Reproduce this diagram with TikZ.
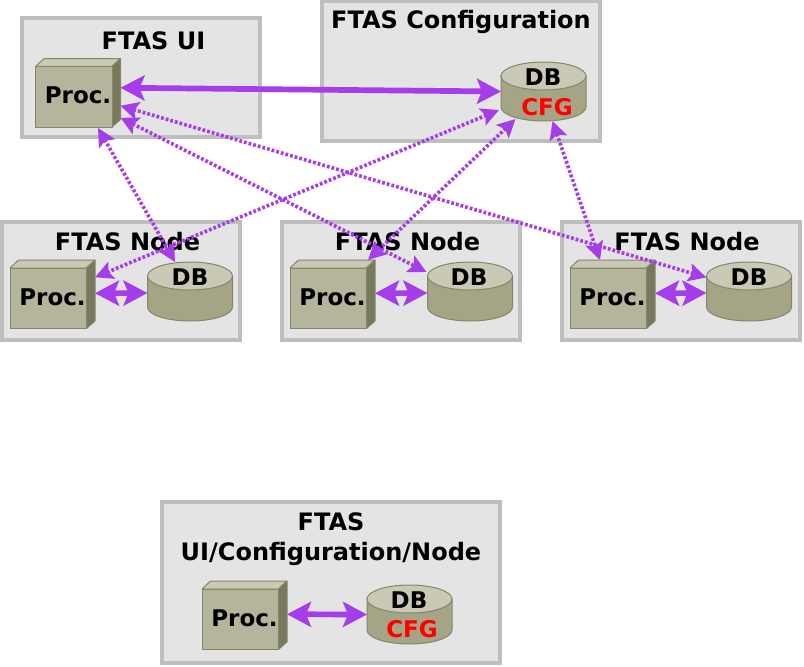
\documentclass[tikz,border=0pt]{standalone}
\usepackage{fontspec}
\setmainfont{DejaVu Sans}[BoldFont={DejaVu Sans Bold}]
\usetikzlibrary{arrows.meta}
\definecolor{frameedge}{HTML}{BEBEBE}
\definecolor{framefill}{HTML}{E4E4E4}
\definecolor{boxfront}{HTML}{B5B59C}
\definecolor{boxtop}{HTML}{C9C9B5}
\definecolor{boxside}{HTML}{78785C}
\definecolor{boxline}{HTML}{85856C}
\definecolor{dbbody}{HTML}{A5A585}
\definecolor{link}{HTML}{A63DEA}
\tikzset{
  x=1pt,y=-1pt,
  frame/.style={draw=frameedge,fill=framefill,line width=4pt},
  lbl/.style={font=\fontsize{23}{27.6}\selectfont\bfseries,text=black,inner sep=0pt,align=center},
  ttl/.style={font=\fontsize{24}{30}\selectfont\bfseries,text=black,inner sep=0pt,align=center},
  cfg/.style={lbl,text=red},
  thicklink/.style={draw=link,line width=5.7pt,{Stealth[inset=5pt,length=24pt,width=25pt]}-{Stealth[inset=5pt,length=24pt,width=25pt]}},
  dotlink/.style={draw=link,line width=3.6pt,dash pattern=on 2.8pt off 2pt,{Stealth[inset=3.5pt,length=18pt,width=18pt]}-{Stealth[inset=3.5pt,length=18pt,width=18pt]}},
  procbox/.style={inner sep=0pt,outer sep=0pt,minimum width=85pt,minimum height=68.5pt},
  dbbox/.style={inner sep=0pt,outer sep=0pt,minimum width=85pt,minimum height=59pt},
}
% \proc{name}{left of front}{top of front}
\newcommand{\proc}[3]{%
  \begin{scope}[shift={(#2,#3)},line width=1pt,line join=round]
    \filldraw[fill=boxtop,draw=boxline] (0,0)--(8.5,-8)--(85,-8)--(76.5,0)--cycle;
    \filldraw[fill=boxside,draw=boxline] (76.5,0)--(85,-8)--(85,53)--(76.5,60.5)--cycle;
    \filldraw[fill=boxfront,draw=boxline] (0,0) rectangle (76.5,60.5);
  \end{scope}%
  \node[procbox] (#1) at (#2+42.5,#3+26.25) {};%
  \node[lbl] (#1t) at (#2+42.5,#3+29) {Proc.};%
}
% \db{name}{left}{ellipse centre y}
\newcommand{\db}[3]{%
  \begin{scope}[shift={(#2,#3)},line width=1pt]
    \filldraw[fill=dbbody,draw=boxline] (0,0)--(0,31) arc[start angle=180,end angle=360,x radius=42.5,y radius=-14]--(85,0)--cycle;
    \filldraw[fill=boxtop,draw=boxline] (42.5,0) ellipse[x radius=42.5,y radius=14];
  \end{scope}%
  \node[dbbox] (#1) at (#2+42.5,#3+15.5) {};%
}
\begin{document}
\begin{tikzpicture}
\useasboundingbox (0,0) rectangle (804,667);
% frames
\node[frame,inner sep=0pt,minimum width=238pt,minimum height=119pt] (fui) at (141,77) {};
\node[frame,inner sep=0pt,minimum width=278pt,minimum height=140pt] (fcfg) at (461,71) {};
\node[frame,inner sep=0pt,minimum width=238pt,minimum height=118pt] (fn1) at (121,281) {};
\node[frame,inner sep=0pt,minimum width=238pt,minimum height=118pt] (fn2) at (401,281) {};
\node[frame,inner sep=0pt,minimum width=238pt,minimum height=118pt] (fn3) at (681,281) {};
\node[frame,inner sep=0pt,minimum width=338pt,minimum height=161pt] (fall) at (331,582) {};
% titles
\node[ttl] (tui) at (153.5,41) {FTAS UI};
\node[ttl] (tcfg) at (461,22) {FTAS Configuration};
\node[ttl] (tn1) at (127.5,242) {FTAS Node};
\node[ttl] (tn2) at (407.5,242) {FTAS Node};
\node[ttl] (tn3) at (687,242) {FTAS Node};
\node[ttl] (tall) at (331,539) {FTAS\\UI/Configuration/Node};
% boxes
\proc{pui}{35.5}{66.5}
\proc{p1}{10}{268}
\proc{p2}{290}{268}
\proc{p3}{570}{268}
\proc{pall}{202}{589}
\db{dcfg}{501}{76}
\db{d1}{147.5}{276}
\db{d2}{427.5}{276}
\db{d3}{706.5}{276}
\db{dall}{367}{599}
\node[lbl] (dcfgt) at (543,77) {DB};
\node[cfg] (dcfgc) at (547,107) {CFG};
\node[lbl] (d1t) at (190,277) {DB};
\node[lbl] (d2t) at (469,277) {DB};
\node[lbl] (d3t) at (749,277) {DB};
\node[lbl] (dallt) at (409,600) {DB};
\node[cfg] (dallc) at (412,629) {CFG};
% links
\draw[thicklink] ([yshift=5pt]pui.east) -- (dcfg.west);
\draw[thicklink] ([yshift=1pt]p1.east) -- ([yshift=-1.5pt]d1.west);
\draw[thicklink] ([yshift=1pt]p2.east) -- ([yshift=-1.5pt]d2.west);
\draw[thicklink] ([yshift=1pt]p3.east) -- ([yshift=-1.5pt]d3.west);
\draw[thicklink] ([yshift=1pt]pall.east) -- (dall.west);
\draw[dotlink] ([yshift=-13pt]pui.east) -- ([yshift=14pt]d3.west);
\draw[dotlink] ([yshift=-25pt]pui.east) -- ([yshift=19.5pt,xshift=-1pt]d2.west);
\draw[dotlink] ([xshift=20pt,yshift=-1pt]pui.south) -- ([xshift=-15pt]d1.north);
\draw[dotlink] ([yshift=-18.5pt,xshift=-2pt]dcfg.west) -- ([yshift=17pt]p1.east);
\draw[dotlink] ([xshift=-28pt,yshift=2pt]dcfg.south) -- ([xshift=78pt]p2.north west);
\draw[dotlink] ([xshift=9pt]dcfg.south) -- ([xshift=30pt]p3.north west);
\end{tikzpicture}
\end{document}
